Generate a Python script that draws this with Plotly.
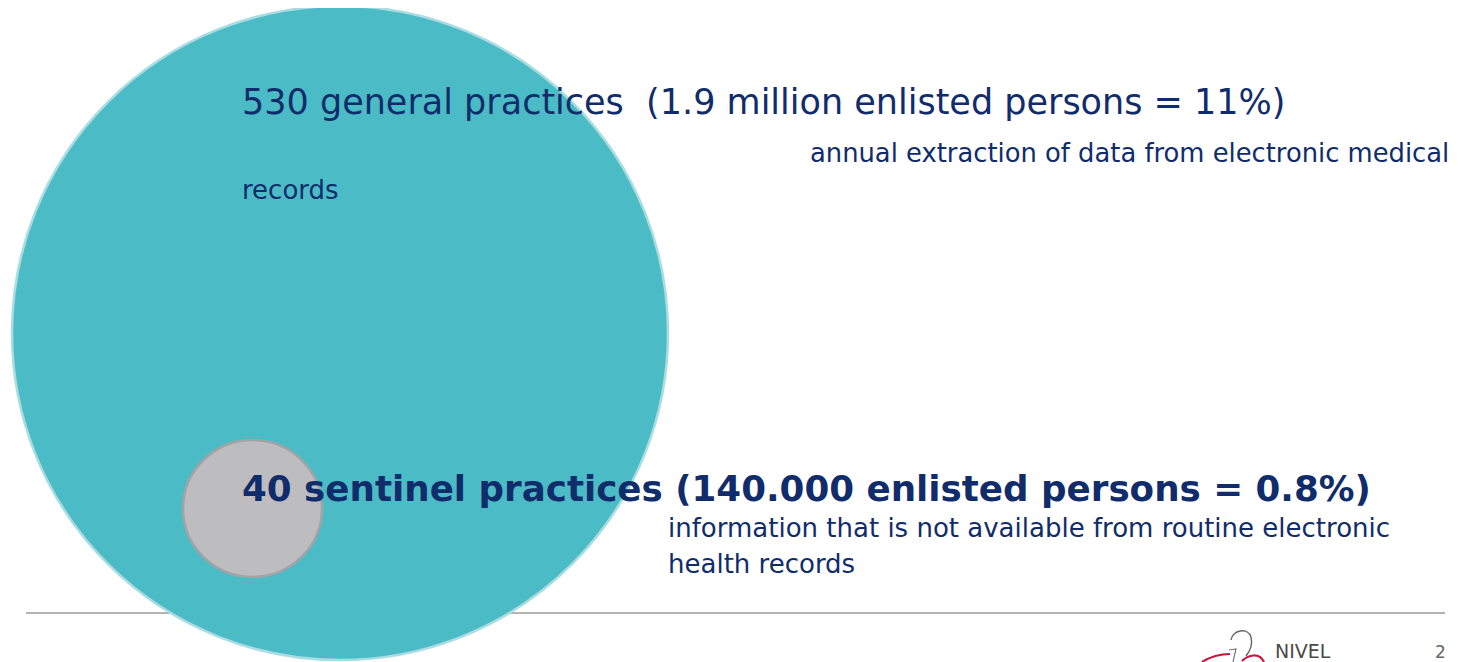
import plotly.graph_objects as go

# ---- data ----
practices = [530, 40]
enlisted = ["1.9 million", "140.000"]
shares = ["11%", "0.8%"]
kinds = ["general practices", "sentinel practices"]
desc_general = ["annual extraction of data from electronic medical", "records"]
desc_sentinel = ["information that is not available from routine electronic", "health records"]
footer_org = "NIVEL"
page_no = "2"

# ---- layout constants ----
W, H = 1458, 662
OFF = 8  # default page margin of the browser body
NAVY = "#112c6b"
TEAL = "#4bbcc6"
FONT = "DejaVu Sans, Verdana, sans-serif"

fig = go.Figure()
# invisible trace to set the axes
fig.add_trace(go.Scatter(x=[OFF, W], y=[OFF, H], mode="markers",
                         marker=dict(opacity=0), hoverinfo="skip", showlegend=False))

shapes = [
    # footer rule (behind circle)
    dict(type="line", x0=26, x1=1445, y0=613, y1=613,
         line=dict(color="#9a9a9a", width=1.5), layer="below"),
    # big circle - general practices
    dict(type="circle", x0=12, x1=668, y0=6, y1=660,
         fillcolor=TEAL, line=dict(color="#a9dde3", width=2.5), layer="below"),
    # small circle - sentinel practices
    dict(type="circle", x0=183, x1=322, y0=440, y1=577,
         fillcolor="#bdbcbf", line=dict(color="#a2a3a6", width=2.5), layer="below"),
    # top right decorative stroke
    dict(type="line", x0=1442, x1=1460, y0=-1, y1=14,
         line=dict(color="#a8d7df", width=2)),
    # logo: gray head curve
    dict(type="path", path="M 1231,640 C 1232,630 1248,627 1251,637 C 1253,645 1250,651 1246,656",
         line=dict(color="#666666", width=1.4)),
    dict(type="path", path="M 1229,650 L 1236,649 L 1233,662",
         line=dict(color="#777777", width=1.2)),
    # logo: red swoosh
    dict(type="path", path="M 1202,662 C 1210,657 1220,654 1230,654",
         line=dict(color="#c8173f", width=2.2)),
    dict(type="path", path="M 1242,661 C 1248,655 1259,652 1264,662",
         line=dict(color="#c8173f", width=2.2)),
]

def ann(text, x, y, size, color=NAVY, bold=False, xanchor="left"):
    t = f"<b>{text}</b>" if bold else text
    return dict(text=t, x=x, y=y, xref="x", yref="y", showarrow=False,
                xanchor=xanchor, yanchor="middle", align="left",
                font=dict(family=FONT, size=size, color=color))

def mid(baseline, size):
    return baseline - 0.346 * size

line1 = f"{practices[0]} {kinds[0]}  ({enlisted[0]} enlisted persons = {shares[0]})"
line2 = f"{practices[1]} {kinds[1]} ({enlisted[1]} enlisted persons = {shares[1]})"

annotations = [
    ann(line1, 240, mid(114, 35), 35),
    ann(desc_general[0], 808, mid(162, 25.8), 25.8),
    ann(desc_general[1], 240, mid(199, 26), 26),
    ann(line2, 240, mid(501, 35.7), 35.7, bold=True),
    ann(desc_sentinel[0], 666, mid(537, 26), 26),
    ann(desc_sentinel[1], 666, mid(573, 26), 26),
    ann(footer_org, 1273, mid(658, 19), 19, color="#4a4a4a"),
    ann(page_no, 1433, mid(658, 17), 17, color="#666666"),
]

fig.update_layout(
    width=W - OFF, height=H - OFF,
    margin=dict(l=0, r=0, t=0, b=0),
    paper_bgcolor="white", plot_bgcolor="white",
    xaxis=dict(range=[OFF, W], visible=False, fixedrange=True),
    yaxis=dict(range=[H, OFF], visible=False, fixedrange=True),
    shapes=shapes, annotations=annotations, showlegend=False,
)

fig.write_html("out.html", config={"displayModeBar": False})
